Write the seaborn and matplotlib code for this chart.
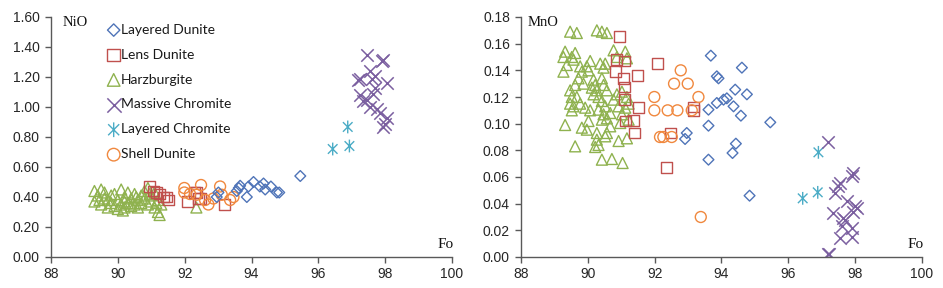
# -*- coding: utf-8 -*-

## Libraries ##

import numpy as np
import pandas as pd
import matplotlib
matplotlib.use("Agg")
import matplotlib.pyplot as plt
import seaborn as sns
from matplotlib.path import Path

## Data : NiO vs Fo ##

ld_fo_ni = [95.46, 94.06, 93.86, 93.62, 93.56, 93.66, 93.91, 94.36, 94.41, 94.58, 94.76, 94.83, 92.96, 93.01, 94.25]
ld_nio = [0.54, 0.50, 0.40, 0.46, 0.44, 0.475, 0.47, 0.49, 0.45, 0.47, 0.43, 0.43, 0.40, 0.43, 0.47]

lens_fo_ni = [90.94, 91.07, 91.36, 91.51, 91.46, 92.09, 92.36, 92.46, 93.18, 91.16, 91.26, 92.41, 92.30]
lens_nio = [0.47, 0.44, 0.40, 0.38, 0.40, 0.37, 0.43, 0.39, 0.35, 0.43, 0.42, 0.39, 0.43]

hz_fo_ni = [89.3, 89.3, 89.4, 89.5, 89.5, 89.6, 89.6, 89.7, 89.7, 89.8, 89.8, 89.9, 89.9, 90.0,
            90.0, 90.1, 90.1, 90.2, 90.2, 90.2, 90.3, 90.3, 90.4, 90.4, 90.5, 90.5, 90.6, 90.6,
            90.7, 90.7, 90.8, 90.8, 90.9, 90.9, 91.0, 91.0, 91.1, 91.1, 91.2, 91.2, 91.3, 91.25,
            92.35, 90.15, 89.45, 90.55, 90.95, 91.15]
hz_nio = [0.44, 0.37, 0.41, 0.45, 0.35, 0.39, 0.43, 0.33, 0.38, 0.41, 0.36, 0.34, 0.42, 0.38,
          0.32, 0.45, 0.35, 0.40, 0.33, 0.37, 0.43, 0.36, 0.39, 0.34, 0.42, 0.35, 0.38, 0.33,
          0.41, 0.36, 0.44, 0.39, 0.35, 0.46, 0.37, 0.41, 0.33, 0.43, 0.38, 0.30, 0.35, 0.28,
          0.33, 0.31, 0.38, 0.40, 0.42, 0.36]

mc_fo_ni = [97.45, 97.90, 97.93, 97.20, 97.55, 97.60, 97.70, 98.05, 97.25, 97.35, 97.55, 97.75,
            97.85, 98.05, 97.95, 97.65, 97.70, 97.45, 97.25, 98.00]
mc_nio = [1.35, 1.31, 1.315, 1.18, 1.24, 1.19, 1.21, 1.16, 1.08, 1.04, 1.00, 0.99,
          0.96, 0.93, 0.87, 1.09, 1.13, 1.05, 1.19, 0.89]

lc_fo_ni = [96.88, 96.43, 96.93]
lc_nio = [0.867, 0.72, 0.74]

sd_fo_ni = [91.99, 91.99, 92.49, 92.36, 92.61, 92.71, 93.06, 93.11, 93.36, 93.46, 92.86, 92.16]
sd_nio = [0.46, 0.43, 0.48, 0.415, 0.38, 0.35, 0.47, 0.415, 0.38, 0.40, 0.39, 0.42]

## Data : MnO vs Fo ##

ld_fo_mn = [93.68, 93.86, 93.91, 94.61, 94.41, 94.16, 94.06, 93.86, 93.61, 94.36, 94.76, 94.58,
            95.46, 93.61, 92.96, 92.91, 94.43, 94.33, 93.61, 94.84]
ld_mno = [0.151, 0.1355, 0.134, 0.142, 0.1255, 0.119, 0.118, 0.1155, 0.1105, 0.113, 0.122, 0.106,
          0.101, 0.0985, 0.093, 0.0885, 0.085, 0.078, 0.073, 0.046]

lens_fo_mn = [90.94, 90.87, 90.84, 91.11, 91.06, 91.11, 91.49, 92.09, 91.11, 91.51, 93.16, 91.36,
              91.13, 91.39, 92.36, 92.46, 93.16]
lens_mno = [0.1655, 0.148, 0.139, 0.147, 0.134, 0.1275, 0.136, 0.145, 0.118, 0.112, 0.1125, 0.1025,
            0.102, 0.093, 0.067, 0.093, 0.110]

hz_fo_mn = [89.47, 89.67, 90.27, 90.42, 90.57, 89.32, 89.27, 89.52, 89.62, 89.57, 89.37, 89.27,
            89.77, 89.82, 90.07, 89.97, 90.02, 90.37, 90.47, 90.52, 90.77, 90.87, 91.12, 91.17,
            89.72, 89.87, 89.62, 89.47, 89.52, 89.47, 89.57, 89.67, 89.77, 89.92, 90.07, 89.52,
            90.17, 90.22, 90.12, 90.27, 90.17, 90.32, 90.42, 90.47, 90.57, 90.42, 90.52, 90.32,
            90.47, 90.57, 90.42, 90.67, 90.77, 90.87, 91.02, 90.92, 91.17, 91.22, 91.12, 91.02,
            90.97, 91.22, 91.17, 89.32, 89.82, 89.97, 90.02, 90.27, 90.27, 90.32, 90.22, 90.57,
            90.52, 90.92, 89.62, 90.42, 90.72, 91.04, 90.67]
hz_mno = [0.169, 0.168, 0.170, 0.169, 0.168, 0.154, 0.150, 0.150, 0.153, 0.148, 0.144, 0.139,
          0.143, 0.139, 0.147, 0.143, 0.140, 0.145, 0.142, 0.145, 0.155, 0.150, 0.154, 0.149,
          0.134, 0.130, 0.129, 0.125, 0.120, 0.115, 0.113, 0.120, 0.115, 0.112, 0.110, 0.110,
          0.133, 0.129, 0.127, 0.125, 0.122, 0.120, 0.134, 0.129, 0.125, 0.117, 0.113, 0.1105,
          0.107, 0.104, 0.103, 0.108, 0.118, 0.122, 0.124, 0.113, 0.120, 0.115, 0.112, 0.107,
          0.1005, 0.103, 0.089, 0.099, 0.097, 0.0955, 0.102, 0.093, 0.088, 0.084, 0.0825, 0.093,
          0.0905, 0.087, 0.083, 0.073, 0.0735, 0.0705, 0.098]

mc_fo_mn = [97.20, 97.95, 97.90, 97.55, 97.50, 97.40, 97.75, 98.00, 97.95, 97.35, 97.65, 97.70,
            97.60, 97.90, 97.55, 97.90, 97.23, 97.20, 98.05]
mc_mno = [0.086, 0.063, 0.0605, 0.0555, 0.053, 0.048, 0.042, 0.038, 0.034, 0.033, 0.029, 0.028,
          0.023, 0.022, 0.014, 0.015, 0.0025, 0.002, 0.037]

lc_fo_mn = [96.90, 96.43, 96.88]
lc_mno = [0.0785, 0.044, 0.0485]

sd_fo_mn = [92.78, 92.58, 92.99, 91.99, 93.31, 91.99, 92.39, 92.68, 93.11, 92.16, 92.26, 92.51, 93.38]
sd_mno = [0.14, 0.13, 0.13, 0.12, 0.12, 0.11, 0.11, 0.11, 0.11, 0.09, 0.09, 0.09, 0.03]

x_ticks = [88, 90, 92, 94, 96, 98, 100]
nio_ticks = [0.00, 0.20, 0.40, 0.60, 0.80, 1.00, 1.20, 1.40, 1.60]
mno_ticks = [0.00, 0.02, 0.04, 0.06, 0.08, 0.10, 0.12, 0.14, 0.16, 0.18]

## Styles ##

# asterisk marker (x plus vertical bar) #
asterisk = Path([(0, -1), (0, 1), (-0.75, -0.75), (0.75, 0.75), (-0.75, 0.75), (0.75, -0.75)],
                [Path.MOVETO, Path.LINETO, Path.MOVETO, Path.LINETO, Path.MOVETO, Path.LINETO])

groups = ["Layered Dunite", "Lens Dunite", "Harzburgite", "Massive Chromite", "Layered Chromite", "Shell Dunite"]
colors = {"Layered Dunite": "#4f74b8", "Lens Dunite": "#c0504d", "Harzburgite": "#8fb24f",
          "Massive Chromite": "#7b5fa0", "Layered Chromite": "#4bacc6", "Shell Dunite": "#f0883e"}
markers = {"Layered Dunite": "D", "Lens Dunite": "s", "Harzburgite": "^",
           "Massive Chromite": "x", "Layered Chromite": asterisk, "Shell Dunite": "o"}
sizes = {"Layered Dunite": 30, "Lens Dunite": 62, "Harzburgite": 62,
         "Massive Chromite": 80, "Layered Chromite": 85, "Shell Dunite": 62}

ni_data = {"Layered Dunite": (ld_fo_ni, ld_nio), "Lens Dunite": (lens_fo_ni, lens_nio),
           "Harzburgite": (hz_fo_ni, hz_nio), "Massive Chromite": (mc_fo_ni, mc_nio),
           "Layered Chromite": (lc_fo_ni, lc_nio), "Shell Dunite": (sd_fo_ni, sd_nio)}
mn_data = {"Layered Dunite": (ld_fo_mn, ld_mno), "Lens Dunite": (lens_fo_mn, lens_mno),
           "Harzburgite": (hz_fo_mn, hz_mno), "Massive Chromite": (mc_fo_mn, mc_mno),
           "Layered Chromite": (lc_fo_mn, lc_mno), "Shell Dunite": (sd_fo_mn, sd_mno)}

sns.set_style("white")
plt.rcParams['font.family'] = ['Liberation Sans', 'DejaVu Sans']

fig = plt.figure(figsize=(9.43, 2.88), dpi=100)
ax1 = fig.add_axes([51/943, 31/288, 401/943, 240/288])
ax2 = fig.add_axes([521/943, 31/288, 401/943, 240/288])

def draw(ax, data, ylab, yticks):
    # draw order: harzburgite first so the others sit on top #
    for g in ["Harzburgite", "Lens Dunite", "Shell Dunite", "Layered Dunite", "Layered Chromite", "Massive Chromite"]:
        fo, val = data[g]
        df = pd.DataFrame({"Fo": fo, "Value": val})
        c = colors[g]
        if g == "Massive Chromite":
            sns.scatterplot(data=df, x="Fo", y="Value", ax=ax, marker="x", s=sizes[g],
                            color=c, linewidth=1.1, label=g)
        else:
            sns.scatterplot(data=df, x="Fo", y="Value", ax=ax, marker=markers[g], s=sizes[g],
                            color=c, facecolor="none", edgecolor=c, linewidth=1.0, label=g)
    ax.set_xlim(88, 100)
    ax.set_ylim(yticks[0], yticks[-1])
    ax.set_xticks(x_ticks)
    ax.set_yticks(yticks)
    ax.set_yticklabels(["{:.2f}".format(t) for t in yticks])
    ax.set_xlabel("")
    ax.set_ylabel("")
    for s in ["top", "right"]:
        ax.spines[s].set_visible(False)
    for s in ["left", "bottom"]:
        ax.spines[s].set_color("#595959")
        ax.spines[s].set_linewidth(1.0)
    ax.tick_params(axis="both", direction="out", length=4, width=1, color="#595959",
                   labelsize=10, labelcolor="#262626", left=True, bottom=True)
    ax.tick_params(axis="x", pad=3)
    ax.tick_params(axis="y", pad=4)
    ax.text(0.03 if ylab == "NiO" else 0.017, 0.975, ylab, transform=ax.transAxes,
            family="Liberation Serif", fontsize=10.5, va="center", ha="left", color="#111111")
    ax.text(0.963, 0.05, "Fo", transform=ax.transAxes, family="Liberation Serif",
            fontsize=11, va="center", ha="left", color="#111111")

draw(ax1, ni_data, "NiO", nio_ticks)
draw(ax2, mn_data, "MnO", mno_ticks)

ax2.get_legend().remove()
h, l = ax1.get_legend_handles_labels()
order = [l.index(g) for g in groups]
ax1.legend([h[i] for i in order], [l[i] for i in order], loc="upper left",
           bbox_to_anchor=(0.139, 0.972), frameon=False, handletextpad=0.0, handlelength=1.0,
           borderaxespad=0, borderpad=0, labelspacing=0.93, markerscale=1.15,
           prop={"family": "Lato", "size": 10}, labelcolor="#1a1a1a")

plt.savefig("out.png", dpi=100)
